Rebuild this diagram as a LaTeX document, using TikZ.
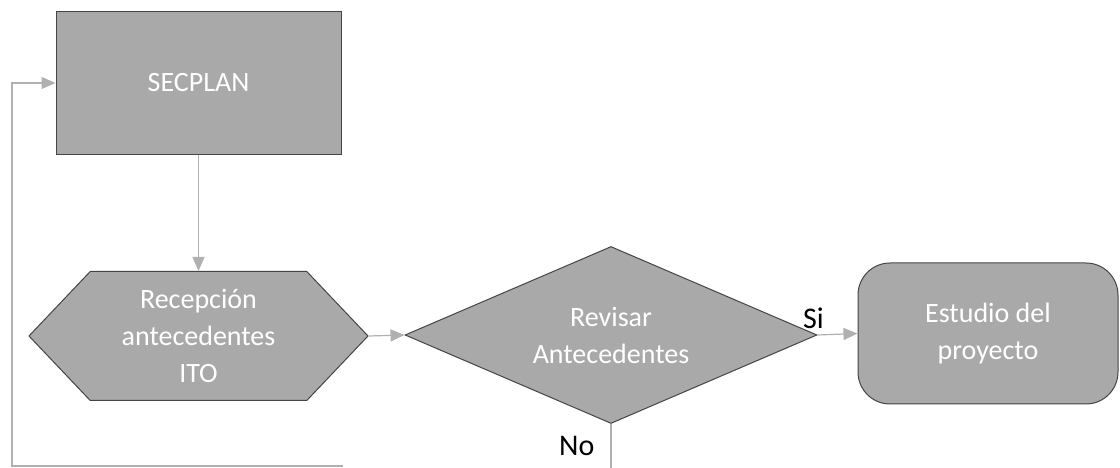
\documentclass[tikz,border=0pt]{standalone}
\usepackage{fontspec}
\setmainfont{Carlito}
\usetikzlibrary{arrows.meta,shapes.geometric,shapes.symbols}
\definecolor{boxgray}{HTML}{A9A9A9}
\definecolor{edgegray}{HTML}{454545}
\definecolor{linegray}{HTML}{B0B0B0}
\tikzset{
    block/.style = {draw=edgegray, fill=boxgray, line width=1pt,
        text=white, align=center, inner sep=0pt,
        font=\fontsize{28}{37}\selectfont},
    hexa/.style = {block, signal, signal to=west and east,
        signal pointer angle=93, minimum width=339pt, minimum height=129pt},
    decision/.style = {block, diamond, aspect=2.33,
        minimum width=412pt, minimum height=177pt},
    terminal/.style = {block, rectangle, rounded corners=32pt,
        minimum width=260pt, minimum height=141pt},
    link/.style = {draw=linegray, line width=1.2pt},
    arrow/.style = {link, -{Triangle[length=14pt,width=12pt]}},
    tag/.style = {font=\fontsize{30}{36}\selectfont, inner sep=0pt}
}

\begin{document}
\begin{tikzpicture}[x=1pt,y=1pt]
    \useasboundingbox (0,0) rectangle (1120,468);
    \node [block, minimum width=285pt, minimum height=143pt] (secplan) at (198.5,385) {SECPLAN};
    \node [hexa] (recep) at (198.5,132) {Recepción\\antecedentes\\ITO};
    \node [decision] (revisar) at (611,133) {Revisar\\Antecedentes};
    \node [terminal] (estudio) at (988,134.5) {Estudio del\\proyecto};
    \coordinate (noend) at (611,0);
    \coordinate (fbstart) at (343,2);
    \coordinate (fbcorner) at (12,2);

    \draw [arrow] (secplan.south) -- (recep.north);
    \draw [arrow] (recep.east) -- (revisar.west);
    \draw [arrow] (revisar.east) -- (estudio.west);
    \node [tag, anchor=south, xshift=-4pt, yshift=6pt] at (revisar.east) {Si};
    \draw [link] (revisar.south) -- node [tag, pos=0.5, left=16pt] {No} (noend);
    \draw [arrow] (fbstart) -- (fbcorner) |- (secplan.west);
\end{tikzpicture}
\end{document}
